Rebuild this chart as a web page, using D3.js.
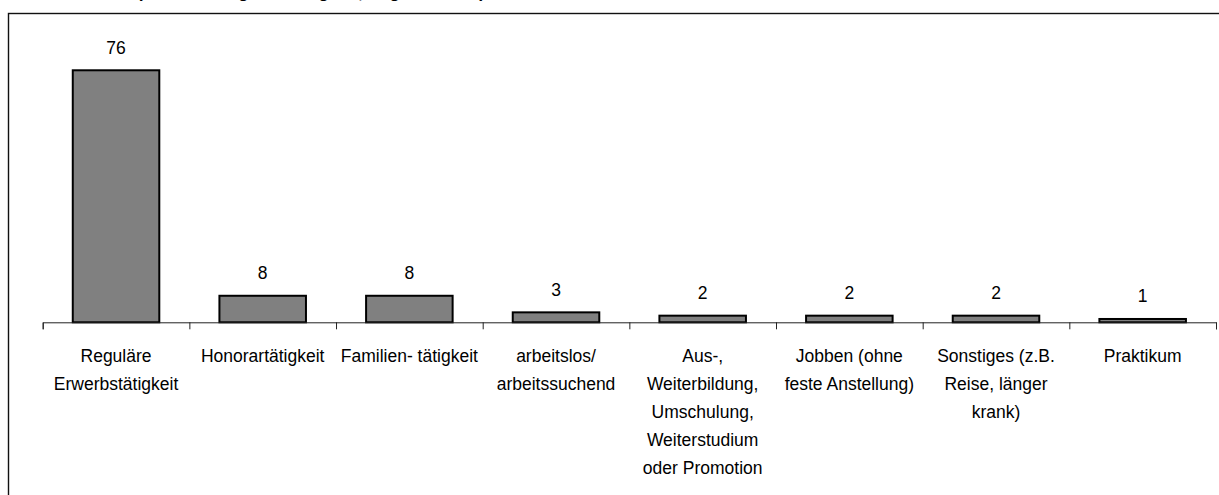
<!DOCTYPE html>
<html lang="de">
<head>
<meta charset="utf-8">
<script src="https://cdn.jsdelivr.net/npm/d3@7"></script>
<style>
  html, body { margin: 0; padding: 0; background: #fff; }
  svg { display: block; }
  text { font-family: "Liberation Sans", Arial, sans-serif; fill: #000; }
</style>
</head>
<body>
<svg id="chart" width="1219" height="495"></svg>
<script>
// Tätigkeiten nach dem Abschluss, Angaben in Prozent
const categories = [
  "Reguläre Erwerbstätigkeit",
  "Honorartätigkeit",
  "Familien- tätigkeit",
  "arbeitslos/ arbeitssuchend",
  "Aus-, Weiterbildung, Umschulung, Weiterstudium oder Promotion",
  "Jobben (ohne feste Anstellung)",
  "Sonstiges (z.B. Reise, länger krank)",
  "Praktikum"
];
// line breaks of the category labels
const labelLines = [
  ["Reguläre", "Erwerbstätigkeit"],
  ["Honorartätigkeit"],
  ["Familien- tätigkeit"],
  ["arbeitslos/", "arbeitssuchend"],
  ["Aus-,", "Weiterbildung,", "Umschulung,", "Weiterstudium", "oder Promotion"],
  ["Jobben (ohne", "feste Anstellung)"],
  ["Sonstiges (z.B.", "Reise, länger", "krank)"],
  ["Praktikum"]
];
const values = [76, 8, 8, 3, 2, 2, 2, 1];
const titleText = "Tätigkeit nach dem Studium (Mehrfachangaben möglich, Angaben in %)";

const svg = d3.select("#chart");

// outer frame of the chart area
svg.append("rect")
  .attr("x", 8.5).attr("y", 13.5)
  .attr("width", 1240).attr("height", 500)
  .attr("fill", "none").attr("stroke", "#111").attr("stroke-width", 1.4);

// title sits above the frame, only its descenders reach into view
svg.append("text")
  .attr("x", 485).attr("y", -2.5)
  .attr("text-anchor", "end")
  .style("font-size", "17px").style("font-weight", "bold")
  .text(titleText);

const left = 42.7, right = 1216, baseY = 322.3;

const x = d3.scaleBand()
  .domain(categories)
  .range([left, right])
  .paddingInner(0.41)
  .paddingOuter(0.205);

const y = d3.scaleLinear()
  .domain([0, 80])
  .range([baseY, baseY - 80 * 3.316]);

// bars
svg.append("g").selectAll("rect")
  .data(values)
  .join("rect")
  .attr("x", (d, i) => x(categories[i]))
  .attr("y", d => y(d))
  .attr("width", x.bandwidth())
  .attr("height", d => y(0) - y(d))
  .attr("fill", "#808080")
  .attr("stroke", "#000")
  .attr("stroke-width", 2);

// value labels
svg.append("g").selectAll("text")
  .data(values)
  .join("text")
  .attr("x", (d, i) => x(categories[i]) + x.bandwidth() / 2)
  .attr("y", d => y(d) - 16.5)
  .attr("text-anchor", "middle")
  .style("font-size", "17.5px")
  .text(d => d);

// category axis with ticks at the category boundaries
const xEdges = d3.scaleLinear().domain([0, categories.length]).range([left, right]);
const axis = svg.append("g")
  .attr("transform", `translate(0,${baseY})`)
  .call(d3.axisBottom(xEdges)
    .tickValues(d3.range(categories.length + 1))
    .tickSize(7)
    .tickSizeOuter(7)
    .tickFormat(""));
axis.selectAll("path, line").attr("stroke", "#222").attr("stroke-width", 1);

// category labels
const labels = svg.append("g").selectAll("text")
  .data(categories)
  .join("text")
  .attr("x", d => x(d) + x.bandwidth() / 2)
  .attr("y", 361.7)
  .attr("text-anchor", "middle")
  .style("font-size", "17.5px");
labels.selectAll("tspan")
  .data((d, i) => labelLines[i])
  .join("tspan")
  .attr("x", function() { return this.parentNode.getAttribute("x"); })
  .attr("dy", (d, j) => j === 0 ? 0 : 28)
  .text(d => d);
</script>
</body>
</html>
